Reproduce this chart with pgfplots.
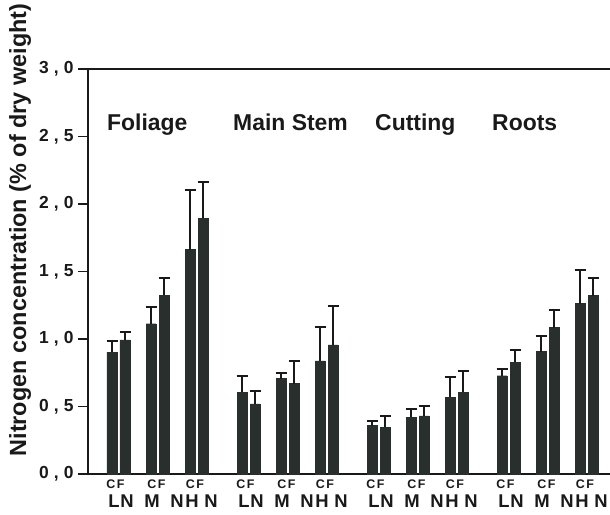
\documentclass[border=0pt]{standalone}
\usepackage{pgfplots}
\usepackage{pgfplotstable}
\usepackage{fontspec}
\setmainfont{Liberation Sans}
\pgfplotsset{compat=1.18}
\definecolor{barcol}{RGB}{40,47,45}
\definecolor{linecol}{RGB}{25,25,25}

\pgfplotstableread{
x y e
0 0.900 0.085
3 1.113 0.124
6 1.662 0.442
10 0.605 0.123
13 0.706 0.042
16 0.837 0.252
20 0.358 0.032
23 0.420 0.064
26 0.568 0.148
30 0.728 0.050
33 0.906 0.116
36 1.262 0.249
}\dataC

\pgfplotstableread{
x y e
1 0.993 0.061
4 1.323 0.131
7 1.894 0.269
11 0.519 0.098
14 0.669 0.168
17 0.956 0.291
21 0.348 0.084
24 0.430 0.074
27 0.607 0.154
31 0.827 0.089
34 1.084 0.133
37 1.321 0.131
}\dataF

\newcommand{\ytl}[2]{\mbox{\fontsize{17.5}{17.5}\selectfont\bfseries #1\hspace{5bp},\hspace{5bp}#2}}

\begin{document}
\begin{tikzpicture}[x=1bp,y=1bp]
\useasboundingbox (0,0) rectangle (610,515);
\begin{axis}[
  at={(88bp,41bp)}, anchor=south west,
  scale only axis, width=540bp, height=405bp,
  xmin=-1.846, xmax=39.69,
  ymin=0, ymax=3,
  axis x line=box, axis y line=left,
  axis line style={-, line width=1.8bp, linecol},
  xtick=\empty,
  ytick={0,0.5,1,1.5,2,2.5,3},
  yticklabels={\ytl{0}{0},\ytl{0}{5},\ytl{1}{0},\ytl{1}{5},\ytl{2}{0},\ytl{2}{5},\ytl{3}{0}},
  yticklabel style={text=linecol, xshift=-1bp},
  tick align=outside, major tick length=10bp,
  tick style={line width=1.5bp, linecol},
  ybar, bar width=0.77, bar shift=0pt,
  clip=false,
]
\addplot[fill=barcol, draw=barcol,
  error bars/.cd, y dir=plus, y explicit,
  error bar style={line width=1.8bp, linecol},
  error mark=-, error mark options={rotate=90, line width=2bp, mark size=5.5bp, linecol}]
  table[x=x, y=y, y error=e] {\dataC};
\addplot[fill=barcol, draw=barcol,
  error bars/.cd, y dir=plus, y explicit,
  error bar style={line width=1.8bp, linecol},
  error mark=-, error mark options={rotate=90, line width=2bp, mark size=5.5bp, linecol}]
  table[x=x, y=y, y error=e] {\dataF};
\end{axis}

% y label
\node[rotate=90, font=\fontsize{23.5}{23.5}\selectfont\bfseries, text=linecol] at (20,285) {Nitrogen concentration (\% of dry weight)};

% group labels
\foreach \gx/\gt in {107/Foliage, 233/Main Stem, 375/Cutting, 492/Roots}
  \node[anchor=base west, inner sep=0, font=\fontsize{23}{23}\selectfont\bfseries, text=linecol] at (\gx,384) {\gt};

% bottom labels
\foreach \g in {112,242,372,502} {
  \foreach \dx in {3.5,44.5,83}
    \node[anchor=base, inner sep=0, font=\fontsize{12.5}{12.5}\selectfont\bfseries, text=linecol] at (\g+\dx,26) {C\hspace{1.5bp}F};
  \foreach \dx/\t in {2/L,15/N,40/M,65/N,80/H,99/N}
    \node[anchor=base, inner sep=0, font=\fontsize{18.5}{18.5}\selectfont\bfseries, text=linecol] at (\g+\dx,7) {\t};
}
\end{tikzpicture}
\end{document}
